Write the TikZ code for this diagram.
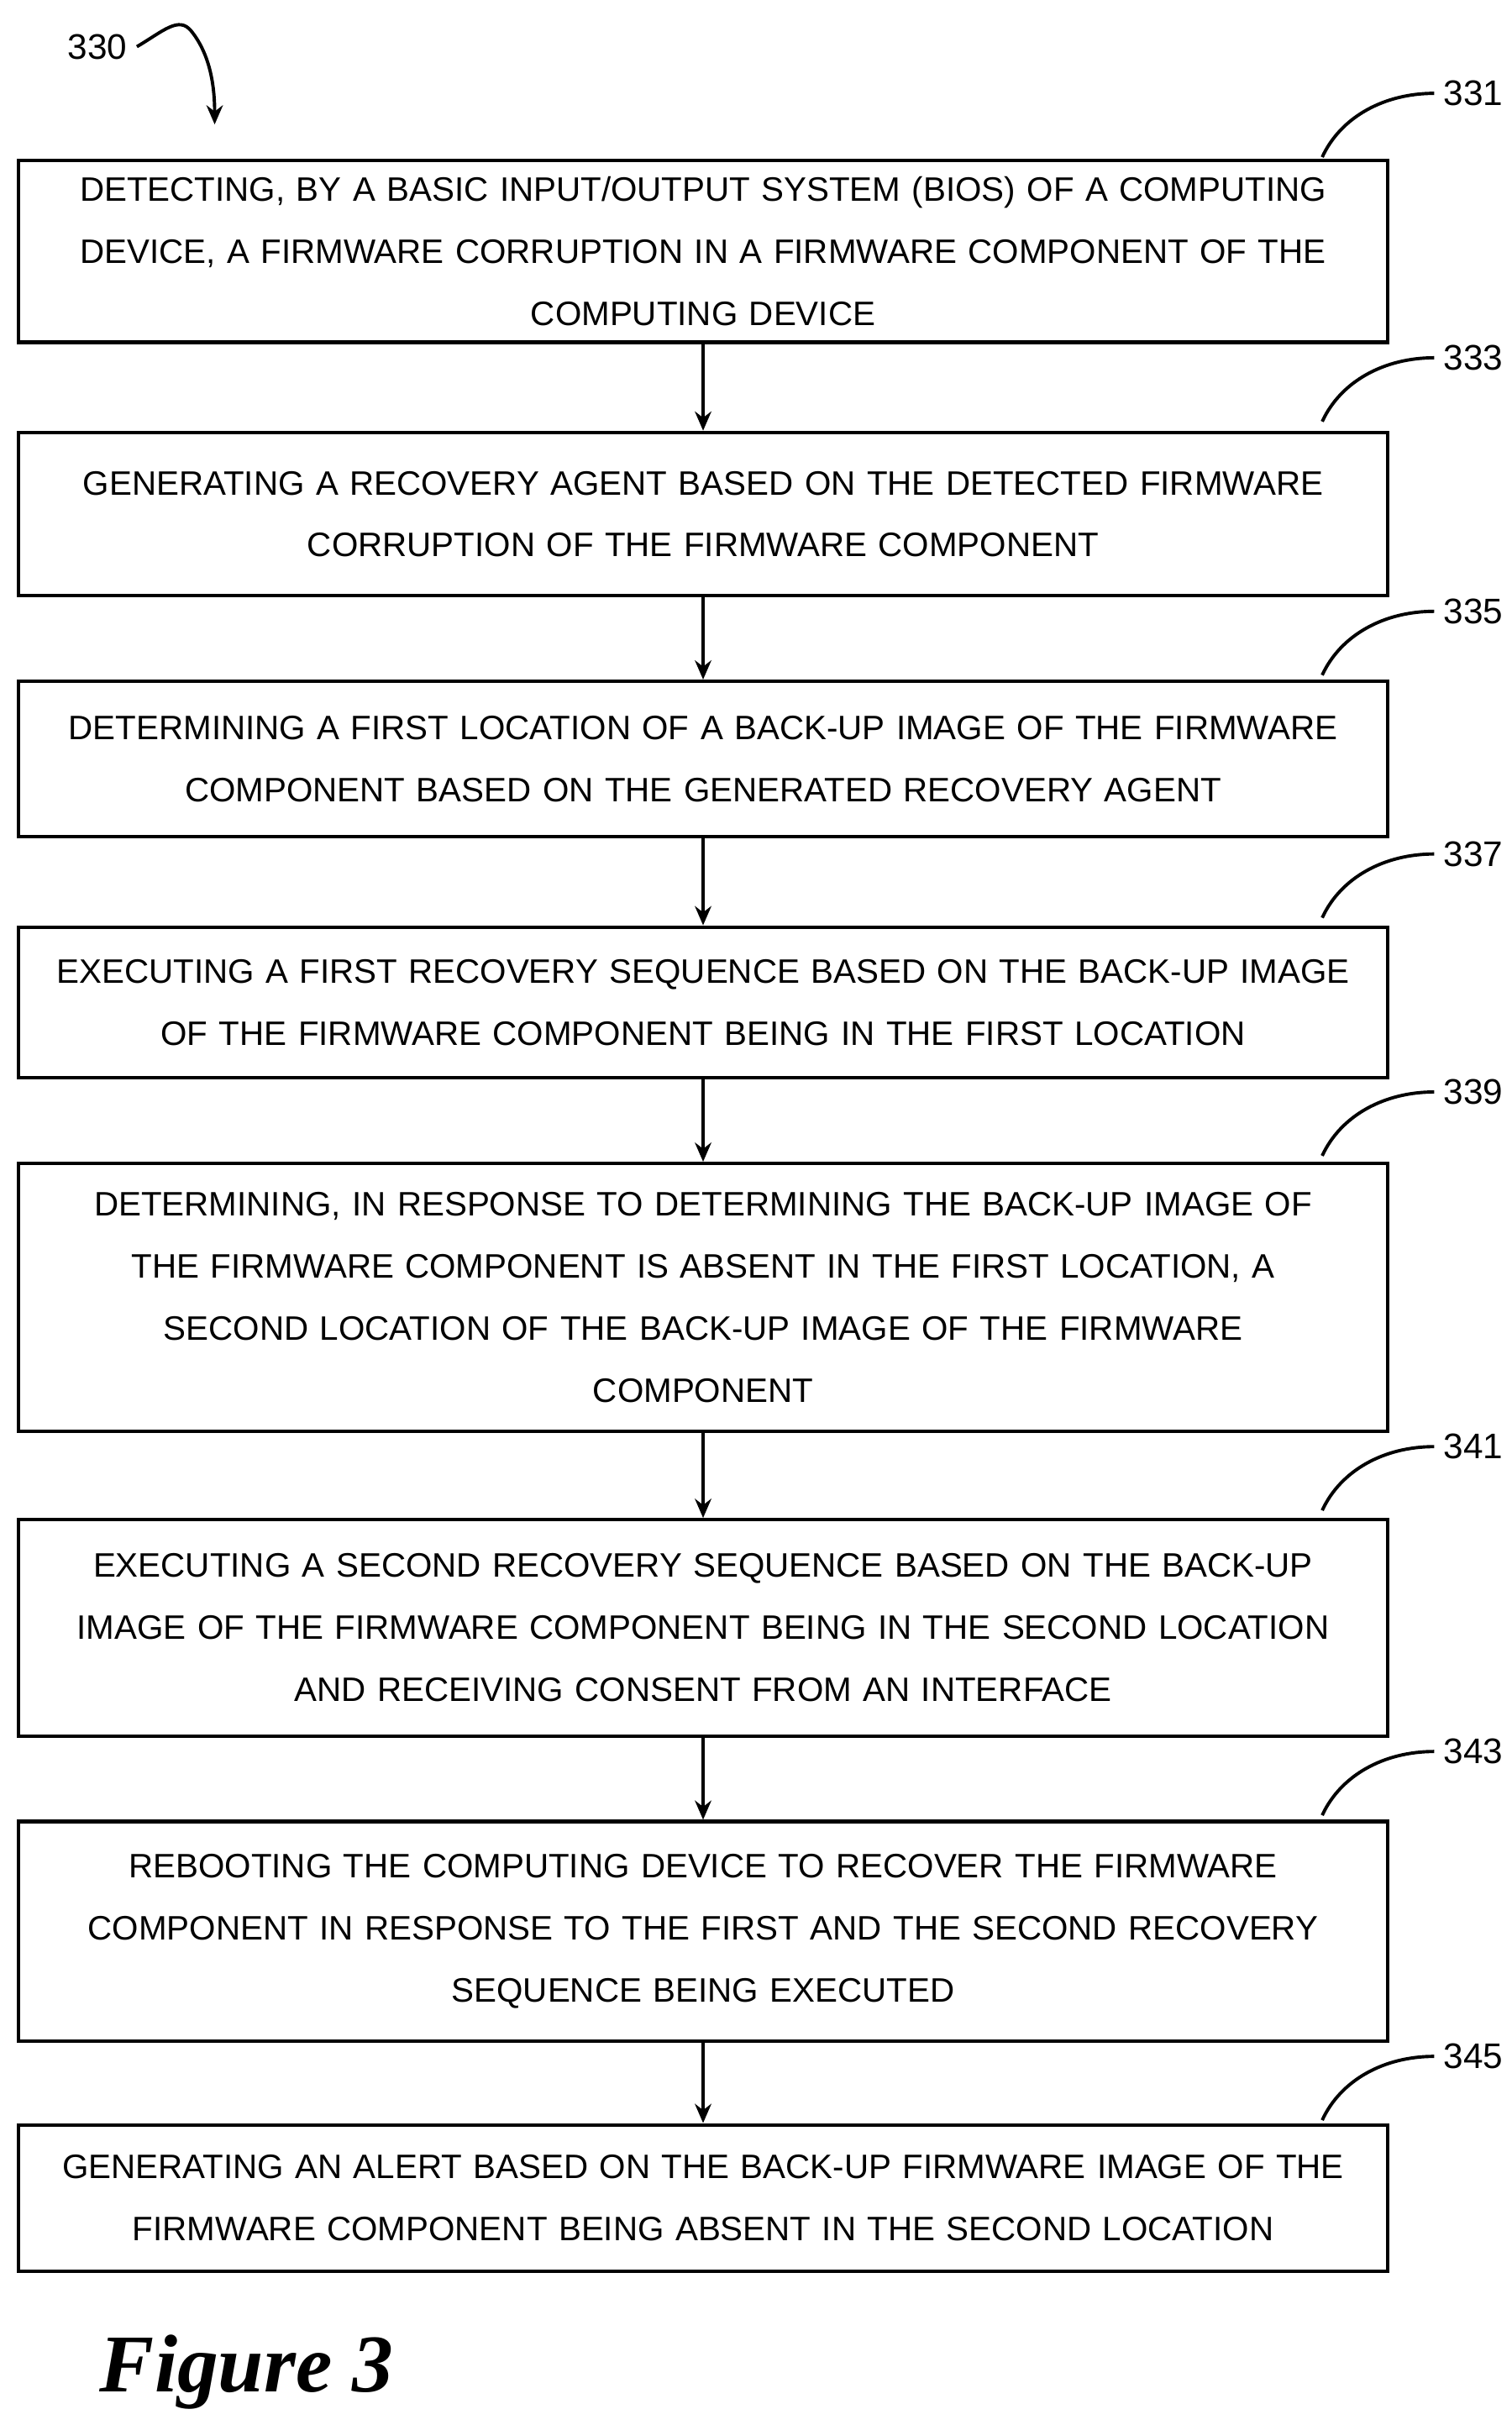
\documentclass[tikz,border=0pt]{standalone}
\usepackage{fontspec}
\setmainfont{Liberation Sans}
\newfontfamily\figfont{Liberation Serif}
\usetikzlibrary{arrows.meta}
\begin{document}
\begin{tikzpicture}[x=0.02cm,y=0.02cm,
 box/.style={draw,line width=1.3pt,text width=17.6cm,align=center,inner sep=0pt,font=\fontsize{12.4}{22.7}\selectfont},
 arr/.style={-{Stealth[length=7pt,width=6pt]},line width=1.2pt},
 lbl/.style={font=\fontsize{13}{15}\selectfont},
 cur/.style={line width=1.2pt}]
\useasboundingbox (0,0) rectangle (972,-1559);
\node[box,minimum height=117*0.02cm] (b1) at (452,-161.5) {DETECTING, BY A BASIC INPUT/OUTPUT SYSTEM (BIOS) OF A COMPUTING\\DEVICE, A FIRMWARE CORRUPTION IN A FIRMWARE COMPONENT OF THE\\COMPUTING DEVICE};
\node[box,minimum height=105*0.02cm] (b2) at (452,-330.5) {GENERATING A RECOVERY AGENT BASED ON THE DETECTED FIRMWARE\\CORRUPTION OF THE FIRMWARE COMPONENT};
\node[box,minimum height=100*0.02cm] (b3) at (452,-488) {DETERMINING A FIRST LOCATION OF A BACK-UP IMAGE OF THE FIRMWARE\\COMPONENT BASED ON THE GENERATED RECOVERY AGENT};
\node[box,minimum height=97*0.02cm] (b4) at (452,-644.5) {EXECUTING A FIRST RECOVERY SEQUENCE BASED ON THE BACK-UP IMAGE\\OF THE FIRMWARE COMPONENT BEING IN THE FIRST LOCATION};
\node[box,minimum height=172*0.02cm] (b5) at (452,-834) {DETERMINING, IN RESPONSE TO DETERMINING THE BACK-UP IMAGE OF\\THE FIRMWARE COMPONENT IS ABSENT IN THE FIRST LOCATION, A\\SECOND LOCATION OF THE BACK-UP IMAGE OF THE FIRMWARE\\COMPONENT};
\node[box,minimum height=139*0.02cm] (b6) at (452,-1046.5) {EXECUTING A SECOND RECOVERY SEQUENCE BASED ON THE BACK-UP\\IMAGE OF THE FIRMWARE COMPONENT BEING IN THE SECOND LOCATION\\AND RECEIVING CONSENT FROM AN INTERFACE};
\node[box,minimum height=141*0.02cm] (b7) at (452,-1241.5) {REBOOTING THE COMPUTING DEVICE TO RECOVER THE FIRMWARE\\COMPONENT IN RESPONSE TO THE FIRST AND THE SECOND RECOVERY\\SEQUENCE BEING EXECUTED};
\node[box,minimum height=94*0.02cm] (b8) at (452,-1413) {GENERATING AN ALERT BASED ON THE BACK-UP FIRMWARE IMAGE OF THE\\FIRMWARE COMPONENT BEING ABSENT IN THE SECOND LOCATION};
\foreach \a/\b in {b1/b2,b2/b3,b3/b4,b4/b5,b5/b6,b6/b7,b7/b8}
  \draw[arr] (\a.south) -- (\b.north);
\foreach \b/\t/\y in {b1/331/60,b2/333/230,b3/335/393,b4/337/549,b5/339/702,b6/341/930,b7/343/1126,b8/345/1322}{
  \node[lbl,anchor=west] (l\t) at (922,-\y) {\t};
  \draw[cur] (850,-\y-41) .. controls (862,-\y-15) and (890,-\y) .. (l\t.west);
}
\node[lbl,anchor=east] (l330) at (88,-30) {330};
\coordinate (e330) at (138,-80);
\draw[arr] (l330.east) .. controls (105,-20) and (115,-10) .. (123,-20) .. controls (135,-35) and (138,-55) .. (e330);
\node[anchor=west,font=\figfont\bfseries\itshape\fontsize{30}{36}\selectfont] (fig) at (58,-1525) {Figure 3};
\end{tikzpicture}
\end{document}
